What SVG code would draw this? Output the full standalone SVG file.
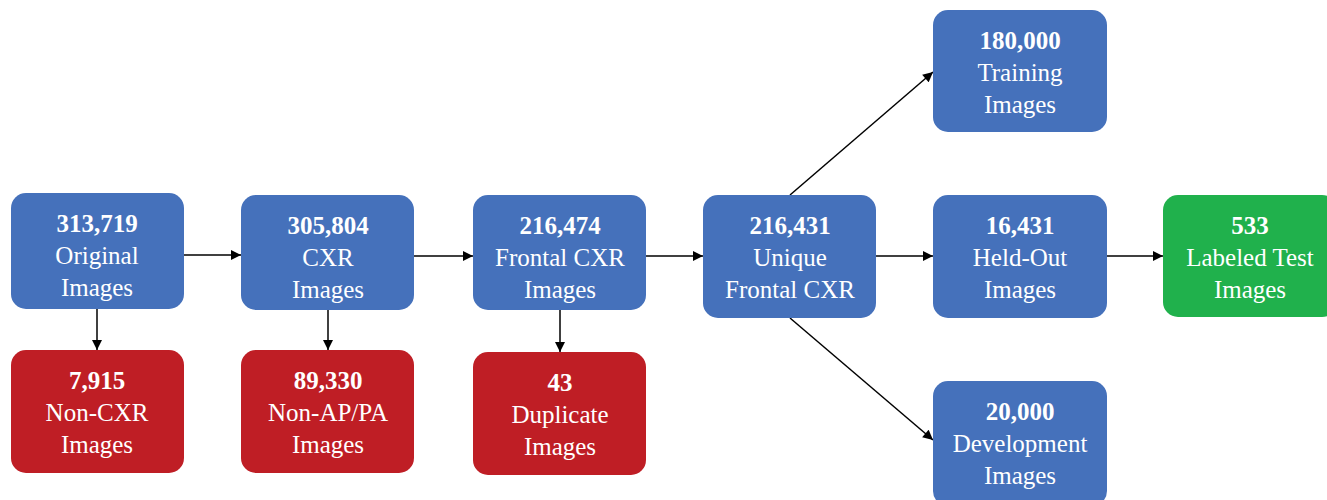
<svg xmlns="http://www.w3.org/2000/svg" width="1327" height="500" viewBox="0 0 1327 500">
<defs>
<style>
.b{fill:#4571BB}
.r{fill:#BF1E25}
.g{fill:#20B14C}
text{font-family:'Liberation Serif','DejaVu Serif',serif;fill:#fff;font-size:25px;text-anchor:middle}
.n{font-weight:bold}
.c{stroke:#000;stroke-width:1.5;fill:none;marker-end:url(#a)}
</style>
<marker id="a" viewBox="0 0 10 10" refX="10" refY="5" markerWidth="11" markerHeight="10" markerUnits="userSpaceOnUse" orient="auto">
<path d="M0,0 L10,5 L0,10 z" fill="#000"/>
</marker>
</defs>
<g id="connectors">
<line class="c" x1="184" y1="255" x2="241" y2="255"/>
<line class="c" x1="414" y1="256" x2="473" y2="256"/>
<line class="c" x1="646" y1="256" x2="703" y2="256"/>
<line class="c" x1="876" y1="256" x2="933" y2="256"/>
<line class="c" x1="1107" y1="256" x2="1163" y2="256"/>
<line class="c" x1="97" y1="308" x2="97" y2="350"/>
<line class="c" x1="328" y1="310" x2="328" y2="350"/>
<line class="c" x1="560" y1="310" x2="560" y2="352"/>
<line class="c" x1="790" y1="195" x2="933" y2="72"/>
<line class="c" x1="790" y1="318" x2="933" y2="440"/>
</g>
<g id="n1"><rect class="b" x="11" y="193" width="173" height="116" rx="15"/><text class="n" x="97" y="232">313,719</text><text x="97" y="264">Original</text><text x="97" y="296">Images</text></g>
<g id="n2"><rect class="b" x="241" y="195" width="173" height="115" rx="15"/><text class="n" x="328" y="234">305,804</text><text x="328" y="266">CXR</text><text x="328" y="298">Images</text></g>
<g id="n3"><rect class="b" x="473" y="195" width="173" height="115" rx="15"/><text class="n" x="560" y="234">216,474</text><text x="560" y="266">Frontal CXR</text><text x="560" y="298">Images</text></g>
<g id="n4"><rect class="b" x="703" y="195" width="173" height="123" rx="15"/><text class="n" x="790" y="234">216,431</text><text x="790" y="266">Unique</text><text x="790" y="298">Frontal CXR</text></g>
<g id="n5"><rect class="b" x="933" y="10" width="174" height="122" rx="15"/><text class="n" x="1020" y="49">180,000</text><text x="1020" y="81">Training</text><text x="1020" y="113">Images</text></g>
<g id="n6"><rect class="b" x="933" y="195" width="174" height="123" rx="15"/><text class="n" x="1020" y="234">16,431</text><text x="1020" y="266">Held-Out</text><text x="1020" y="298">Images</text></g>
<g id="n7"><rect class="b" x="933" y="381" width="174" height="125" rx="15"/><text class="n" x="1020" y="420">20,000</text><text x="1020" y="452">Development</text><text x="1020" y="484">Images</text></g>
<g id="n8"><rect class="g" x="1163" y="195" width="174" height="122" rx="15"/><text class="n" x="1250" y="234">533</text><text x="1250" y="266">Labeled Test</text><text x="1250" y="298">Images</text></g>
<g id="r1"><rect class="r" x="11" y="350" width="173" height="123" rx="15"/><text class="n" x="97" y="389">7,915</text><text x="97" y="421">Non-CXR</text><text x="97" y="453">Images</text></g>
<g id="r2"><rect class="r" x="241" y="350" width="173" height="123" rx="15"/><text class="n" x="328" y="389">89,330</text><text x="328" y="421">Non-AP/PA</text><text x="328" y="453">Images</text></g>
<g id="r3"><rect class="r" x="473" y="352" width="173" height="123" rx="15"/><text class="n" x="560" y="391">43</text><text x="560" y="423">Duplicate</text><text x="560" y="455">Images</text></g>
</svg>
